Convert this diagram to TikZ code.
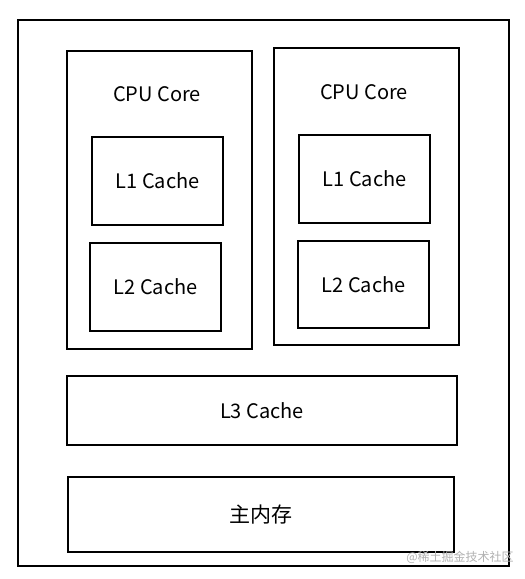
\documentclass[tikz,border=0pt]{standalone}
\usepackage{fontspec}
\setmainfont{Noto Sans CJK SC}
\begin{document}
\begin{tikzpicture}[x=1pt,y=-1pt,
  box/.style={draw=black,line width=1.5pt,rectangle,inner sep=0pt,font=\fontsize{20}{24}\selectfont},
  lbl/.style={inner sep=0pt,font=\fontsize{20}{24}\selectfont}]
\useasboundingbox[fill=white] (0,0) rectangle (525,579);
\node[box,minimum width=491pt,minimum height=546pt] (outer) at (263.5,293) {};
\node[box,minimum width=185pt,minimum height=298pt] (cpu1) at (159.5,200) {};
\node[lbl] (cpu1l) at (157,94) {CPU Core};
\node[box,minimum width=131pt,minimum height=88pt] (l1a) at (157.5,181) {L1 Cache};
\node[box,minimum width=131pt,minimum height=88pt] (l2a) at (155.5,287) {L2 Cache};
\node[box,minimum width=185pt,minimum height=297pt] (cpu2) at (366.5,196.5) {};
\node[lbl] (cpu2l) at (364,92) {CPU Core};
\node[box,minimum width=131pt,minimum height=88pt] (l1b) at (364.5,179) {L1 Cache};
\node[box,minimum width=131pt,minimum height=87pt] (l2b) at (363.5,284.5) {L2 Cache};
\node[box,minimum width=390pt,minimum height=69pt] (l3) at (262,410.5) {L3 Cache};
\node[box,minimum width=386pt,minimum height=75pt,font=\fontsize{21}{25}\selectfont] (mem) at (261,514.5) {主内存};
\node[inner sep=0pt,text=black!30,font=\fontsize{12}{14}\selectfont] (wm) at (460,557) {@稀土掘金技术社区};
\end{tikzpicture}
\end{document}
